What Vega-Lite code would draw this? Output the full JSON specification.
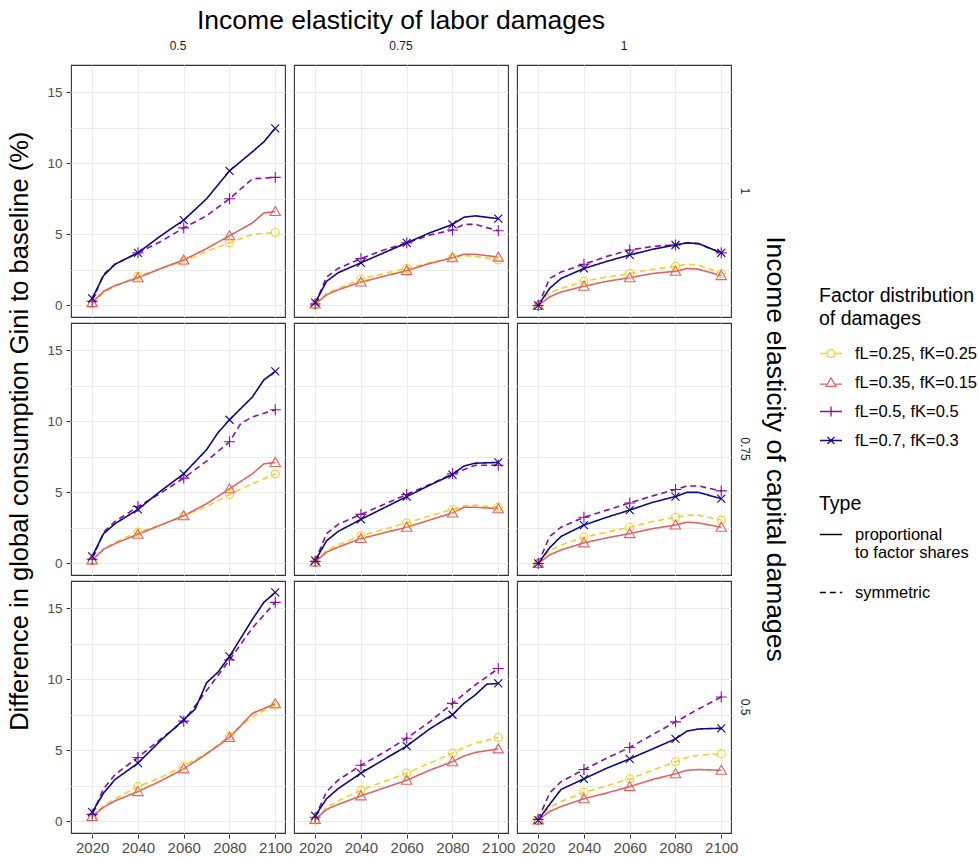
{
  "$schema": "https://vega.github.io/schema/vega-lite/v6.json",
  "padding": {"left": 8, "top": 7, "right": 0, "bottom": 3},
  "background": "white",
  "title": {"text": "Difference in global consumption Gini to baseline (%)", "orient": "left", "anchor": "middle", "fontSize": 25.5, "fontWeight": "normal", "color": "#000000", "offset": 13},
  "config": {
    "font": "Liberation Sans",
    "view": {"stroke": "#333333", "strokeWidth": 1.1},
    "axis": {"grid": true, "gridColor": "#EBEBEB", "gridWidth": 1.1, "domain": false, "tickColor": "#333333", "tickSize": 4, "labelColor": "#4D4D4D", "labelFontSize": 13.5, "labelPadding": 3, "titleFontWeight": "normal", "titleColor": "#000000"},
    "header": {"labelFontSize": 12, "labelColor": "#1A1A1A", "titleFontSize": 26.5, "titleFontWeight": "normal", "titleColor": "#000000"},
    "legend": {"titleFontWeight": "normal", "titleFontSize": 19.5, "titleLineHeight": 23, "labelFontSize": 16.5, "titleColor": "#000000", "labelColor": "#000000"}
  },
  "data": {"values": [
    {"c":"0.5","r":"1","s":"fL=0.25, fK=0.25","t":"symmetric","x":2020,"v":0.1},
    {"c":"0.5","r":"1","s":"fL=0.25, fK=0.25","t":"symmetric","x":2025,"v":0.9},
    {"c":"0.5","r":"1","s":"fL=0.25, fK=0.25","t":"symmetric","x":2030,"v":1.35},
    {"c":"0.5","r":"1","s":"fL=0.25, fK=0.25","t":"symmetric","x":2040,"v":2.05},
    {"c":"0.5","r":"1","s":"fL=0.25, fK=0.25","t":"symmetric","x":2050,"v":2.6},
    {"c":"0.5","r":"1","s":"fL=0.25, fK=0.25","t":"symmetric","x":2060,"v":3.1},
    {"c":"0.5","r":"1","s":"fL=0.25, fK=0.25","t":"symmetric","x":2070,"v":3.8},
    {"c":"0.5","r":"1","s":"fL=0.25, fK=0.25","t":"symmetric","x":2080,"v":4.4},
    {"c":"0.5","r":"1","s":"fL=0.25, fK=0.25","t":"symmetric","x":2090,"v":5.0},
    {"c":"0.5","r":"1","s":"fL=0.25, fK=0.25","t":"symmetric","x":2100,"v":5.13},
    {"c":"0.5","r":"1","s":"fL=0.35, fK=0.15","t":"proportional to factor shares","x":2020,"v":0.2},
    {"c":"0.5","r":"1","s":"fL=0.35, fK=0.15","t":"proportional to factor shares","x":2025,"v":1.0},
    {"c":"0.5","r":"1","s":"fL=0.35, fK=0.15","t":"proportional to factor shares","x":2030,"v":1.4},
    {"c":"0.5","r":"1","s":"fL=0.35, fK=0.15","t":"proportional to factor shares","x":2040,"v":1.95},
    {"c":"0.5","r":"1","s":"fL=0.35, fK=0.15","t":"proportional to factor shares","x":2050,"v":2.6},
    {"c":"0.5","r":"1","s":"fL=0.35, fK=0.15","t":"proportional to factor shares","x":2060,"v":3.2},
    {"c":"0.5","r":"1","s":"fL=0.35, fK=0.15","t":"proportional to factor shares","x":2070,"v":4.0},
    {"c":"0.5","r":"1","s":"fL=0.35, fK=0.15","t":"proportional to factor shares","x":2080,"v":4.9},
    {"c":"0.5","r":"1","s":"fL=0.35, fK=0.15","t":"proportional to factor shares","x":2090,"v":5.8},
    {"c":"0.5","r":"1","s":"fL=0.35, fK=0.15","t":"proportional to factor shares","x":2095,"v":6.5},
    {"c":"0.5","r":"1","s":"fL=0.35, fK=0.15","t":"proportional to factor shares","x":2100,"v":6.6},
    {"c":"0.5","r":"1","s":"fL=0.5, fK=0.5","t":"symmetric","x":2020,"v":0.3},
    {"c":"0.5","r":"1","s":"fL=0.5, fK=0.5","t":"symmetric","x":2025,"v":2.2},
    {"c":"0.5","r":"1","s":"fL=0.5, fK=0.5","t":"symmetric","x":2030,"v":2.9},
    {"c":"0.5","r":"1","s":"fL=0.5, fK=0.5","t":"symmetric","x":2040,"v":3.7},
    {"c":"0.5","r":"1","s":"fL=0.5, fK=0.5","t":"symmetric","x":2050,"v":4.5},
    {"c":"0.5","r":"1","s":"fL=0.5, fK=0.5","t":"symmetric","x":2060,"v":5.45},
    {"c":"0.5","r":"1","s":"fL=0.5, fK=0.5","t":"symmetric","x":2070,"v":6.3},
    {"c":"0.5","r":"1","s":"fL=0.5, fK=0.5","t":"symmetric","x":2080,"v":7.5},
    {"c":"0.5","r":"1","s":"fL=0.5, fK=0.5","t":"symmetric","x":2090,"v":8.9},
    {"c":"0.5","r":"1","s":"fL=0.5, fK=0.5","t":"symmetric","x":2100,"v":9.0},
    {"c":"0.5","r":"1","s":"fL=0.7, fK=0.3","t":"proportional to factor shares","x":2020,"v":0.5},
    {"c":"0.5","r":"1","s":"fL=0.7, fK=0.3","t":"proportional to factor shares","x":2025,"v":2.1},
    {"c":"0.5","r":"1","s":"fL=0.7, fK=0.3","t":"proportional to factor shares","x":2030,"v":2.9},
    {"c":"0.5","r":"1","s":"fL=0.7, fK=0.3","t":"proportional to factor shares","x":2040,"v":3.7},
    {"c":"0.5","r":"1","s":"fL=0.7, fK=0.3","t":"proportional to factor shares","x":2050,"v":4.9},
    {"c":"0.5","r":"1","s":"fL=0.7, fK=0.3","t":"proportional to factor shares","x":2060,"v":6.0},
    {"c":"0.5","r":"1","s":"fL=0.7, fK=0.3","t":"proportional to factor shares","x":2070,"v":7.5},
    {"c":"0.5","r":"1","s":"fL=0.7, fK=0.3","t":"proportional to factor shares","x":2080,"v":9.46},
    {"c":"0.5","r":"1","s":"fL=0.7, fK=0.3","t":"proportional to factor shares","x":2090,"v":10.8},
    {"c":"0.5","r":"1","s":"fL=0.7, fK=0.3","t":"proportional to factor shares","x":2095,"v":11.5},
    {"c":"0.5","r":"1","s":"fL=0.7, fK=0.3","t":"proportional to factor shares","x":2100,"v":12.45},

    {"c":"0.75","r":"1","s":"fL=0.25, fK=0.25","t":"symmetric","x":2020,"v":0.05},
    {"c":"0.75","r":"1","s":"fL=0.25, fK=0.25","t":"symmetric","x":2025,"v":0.85},
    {"c":"0.75","r":"1","s":"fL=0.25, fK=0.25","t":"symmetric","x":2030,"v":1.2},
    {"c":"0.75","r":"1","s":"fL=0.25, fK=0.25","t":"symmetric","x":2040,"v":1.85},
    {"c":"0.75","r":"1","s":"fL=0.25, fK=0.25","t":"symmetric","x":2050,"v":2.25},
    {"c":"0.75","r":"1","s":"fL=0.25, fK=0.25","t":"symmetric","x":2060,"v":2.6},
    {"c":"0.75","r":"1","s":"fL=0.25, fK=0.25","t":"symmetric","x":2070,"v":3.0},
    {"c":"0.75","r":"1","s":"fL=0.25, fK=0.25","t":"symmetric","x":2080,"v":3.35},
    {"c":"0.75","r":"1","s":"fL=0.25, fK=0.25","t":"symmetric","x":2085,"v":3.5},
    {"c":"0.75","r":"1","s":"fL=0.25, fK=0.25","t":"symmetric","x":2090,"v":3.45},
    {"c":"0.75","r":"1","s":"fL=0.25, fK=0.25","t":"symmetric","x":2100,"v":3.2},
    {"c":"0.75","r":"1","s":"fL=0.35, fK=0.15","t":"proportional to factor shares","x":2020,"v":0.1},
    {"c":"0.75","r":"1","s":"fL=0.35, fK=0.15","t":"proportional to factor shares","x":2025,"v":0.75},
    {"c":"0.75","r":"1","s":"fL=0.35, fK=0.15","t":"proportional to factor shares","x":2030,"v":1.1},
    {"c":"0.75","r":"1","s":"fL=0.35, fK=0.15","t":"proportional to factor shares","x":2040,"v":1.65},
    {"c":"0.75","r":"1","s":"fL=0.35, fK=0.15","t":"proportional to factor shares","x":2050,"v":2.05},
    {"c":"0.75","r":"1","s":"fL=0.35, fK=0.15","t":"proportional to factor shares","x":2060,"v":2.45},
    {"c":"0.75","r":"1","s":"fL=0.35, fK=0.15","t":"proportional to factor shares","x":2070,"v":2.95},
    {"c":"0.75","r":"1","s":"fL=0.35, fK=0.15","t":"proportional to factor shares","x":2080,"v":3.35},
    {"c":"0.75","r":"1","s":"fL=0.35, fK=0.15","t":"proportional to factor shares","x":2085,"v":3.6},
    {"c":"0.75","r":"1","s":"fL=0.35, fK=0.15","t":"proportional to factor shares","x":2090,"v":3.6},
    {"c":"0.75","r":"1","s":"fL=0.35, fK=0.15","t":"proportional to factor shares","x":2100,"v":3.4},
    {"c":"0.75","r":"1","s":"fL=0.5, fK=0.5","t":"symmetric","x":2020,"v":0.1},
    {"c":"0.75","r":"1","s":"fL=0.5, fK=0.5","t":"symmetric","x":2025,"v":2.0},
    {"c":"0.75","r":"1","s":"fL=0.5, fK=0.5","t":"symmetric","x":2030,"v":2.6},
    {"c":"0.75","r":"1","s":"fL=0.5, fK=0.5","t":"symmetric","x":2040,"v":3.3},
    {"c":"0.75","r":"1","s":"fL=0.5, fK=0.5","t":"symmetric","x":2050,"v":3.9},
    {"c":"0.75","r":"1","s":"fL=0.5, fK=0.5","t":"symmetric","x":2060,"v":4.4},
    {"c":"0.75","r":"1","s":"fL=0.5, fK=0.5","t":"symmetric","x":2070,"v":4.95},
    {"c":"0.75","r":"1","s":"fL=0.5, fK=0.5","t":"symmetric","x":2080,"v":5.3},
    {"c":"0.75","r":"1","s":"fL=0.5, fK=0.5","t":"symmetric","x":2085,"v":5.7},
    {"c":"0.75","r":"1","s":"fL=0.5, fK=0.5","t":"symmetric","x":2090,"v":5.7},
    {"c":"0.75","r":"1","s":"fL=0.5, fK=0.5","t":"symmetric","x":2100,"v":5.25},
    {"c":"0.75","r":"1","s":"fL=0.7, fK=0.3","t":"proportional to factor shares","x":2020,"v":0.2},
    {"c":"0.75","r":"1","s":"fL=0.7, fK=0.3","t":"proportional to factor shares","x":2025,"v":1.7},
    {"c":"0.75","r":"1","s":"fL=0.7, fK=0.3","t":"proportional to factor shares","x":2030,"v":2.3},
    {"c":"0.75","r":"1","s":"fL=0.7, fK=0.3","t":"proportional to factor shares","x":2040,"v":3.0},
    {"c":"0.75","r":"1","s":"fL=0.7, fK=0.3","t":"proportional to factor shares","x":2050,"v":3.7},
    {"c":"0.75","r":"1","s":"fL=0.7, fK=0.3","t":"proportional to factor shares","x":2060,"v":4.4},
    {"c":"0.75","r":"1","s":"fL=0.7, fK=0.3","t":"proportional to factor shares","x":2070,"v":5.1},
    {"c":"0.75","r":"1","s":"fL=0.7, fK=0.3","t":"proportional to factor shares","x":2080,"v":5.7},
    {"c":"0.75","r":"1","s":"fL=0.7, fK=0.3","t":"proportional to factor shares","x":2085,"v":6.2},
    {"c":"0.75","r":"1","s":"fL=0.7, fK=0.3","t":"proportional to factor shares","x":2090,"v":6.3},
    {"c":"0.75","r":"1","s":"fL=0.7, fK=0.3","t":"proportional to factor shares","x":2100,"v":6.1},

    {"c":"1","r":"1","s":"fL=0.25, fK=0.25","t":"symmetric","x":2020,"v":0.0},
    {"c":"1","r":"1","s":"fL=0.25, fK=0.25","t":"symmetric","x":2025,"v":0.9},
    {"c":"1","r":"1","s":"fL=0.25, fK=0.25","t":"symmetric","x":2030,"v":1.2},
    {"c":"1","r":"1","s":"fL=0.25, fK=0.25","t":"symmetric","x":2040,"v":1.7},
    {"c":"1","r":"1","s":"fL=0.25, fK=0.25","t":"symmetric","x":2050,"v":2.0},
    {"c":"1","r":"1","s":"fL=0.25, fK=0.25","t":"symmetric","x":2060,"v":2.25},
    {"c":"1","r":"1","s":"fL=0.25, fK=0.25","t":"symmetric","x":2070,"v":2.55},
    {"c":"1","r":"1","s":"fL=0.25, fK=0.25","t":"symmetric","x":2080,"v":2.75},
    {"c":"1","r":"1","s":"fL=0.25, fK=0.25","t":"symmetric","x":2085,"v":2.9},
    {"c":"1","r":"1","s":"fL=0.25, fK=0.25","t":"symmetric","x":2090,"v":2.85},
    {"c":"1","r":"1","s":"fL=0.25, fK=0.25","t":"symmetric","x":2100,"v":2.25},
    {"c":"1","r":"1","s":"fL=0.35, fK=0.15","t":"proportional to factor shares","x":2020,"v":0.0},
    {"c":"1","r":"1","s":"fL=0.35, fK=0.15","t":"proportional to factor shares","x":2025,"v":0.6},
    {"c":"1","r":"1","s":"fL=0.35, fK=0.15","t":"proportional to factor shares","x":2030,"v":0.95},
    {"c":"1","r":"1","s":"fL=0.35, fK=0.15","t":"proportional to factor shares","x":2040,"v":1.35},
    {"c":"1","r":"1","s":"fL=0.35, fK=0.15","t":"proportional to factor shares","x":2050,"v":1.7},
    {"c":"1","r":"1","s":"fL=0.35, fK=0.15","t":"proportional to factor shares","x":2060,"v":1.95},
    {"c":"1","r":"1","s":"fL=0.35, fK=0.15","t":"proportional to factor shares","x":2070,"v":2.25},
    {"c":"1","r":"1","s":"fL=0.35, fK=0.15","t":"proportional to factor shares","x":2080,"v":2.4},
    {"c":"1","r":"1","s":"fL=0.35, fK=0.15","t":"proportional to factor shares","x":2085,"v":2.6},
    {"c":"1","r":"1","s":"fL=0.35, fK=0.15","t":"proportional to factor shares","x":2090,"v":2.55},
    {"c":"1","r":"1","s":"fL=0.35, fK=0.15","t":"proportional to factor shares","x":2100,"v":2.1},
    {"c":"1","r":"1","s":"fL=0.5, fK=0.5","t":"symmetric","x":2020,"v":0.0},
    {"c":"1","r":"1","s":"fL=0.5, fK=0.5","t":"symmetric","x":2025,"v":1.9},
    {"c":"1","r":"1","s":"fL=0.5, fK=0.5","t":"symmetric","x":2030,"v":2.35},
    {"c":"1","r":"1","s":"fL=0.5, fK=0.5","t":"symmetric","x":2040,"v":2.9},
    {"c":"1","r":"1","s":"fL=0.5, fK=0.5","t":"symmetric","x":2050,"v":3.45},
    {"c":"1","r":"1","s":"fL=0.5, fK=0.5","t":"symmetric","x":2060,"v":3.9},
    {"c":"1","r":"1","s":"fL=0.5, fK=0.5","t":"symmetric","x":2070,"v":4.15},
    {"c":"1","r":"1","s":"fL=0.5, fK=0.5","t":"symmetric","x":2080,"v":4.25},
    {"c":"1","r":"1","s":"fL=0.5, fK=0.5","t":"symmetric","x":2085,"v":4.4},
    {"c":"1","r":"1","s":"fL=0.5, fK=0.5","t":"symmetric","x":2090,"v":4.35},
    {"c":"1","r":"1","s":"fL=0.5, fK=0.5","t":"symmetric","x":2100,"v":3.7},
    {"c":"1","r":"1","s":"fL=0.7, fK=0.3","t":"proportional to factor shares","x":2020,"v":0.0},
    {"c":"1","r":"1","s":"fL=0.7, fK=0.3","t":"proportional to factor shares","x":2025,"v":1.2},
    {"c":"1","r":"1","s":"fL=0.7, fK=0.3","t":"proportional to factor shares","x":2030,"v":1.9},
    {"c":"1","r":"1","s":"fL=0.7, fK=0.3","t":"proportional to factor shares","x":2040,"v":2.6},
    {"c":"1","r":"1","s":"fL=0.7, fK=0.3","t":"proportional to factor shares","x":2050,"v":3.1},
    {"c":"1","r":"1","s":"fL=0.7, fK=0.3","t":"proportional to factor shares","x":2060,"v":3.55},
    {"c":"1","r":"1","s":"fL=0.7, fK=0.3","t":"proportional to factor shares","x":2070,"v":3.95},
    {"c":"1","r":"1","s":"fL=0.7, fK=0.3","t":"proportional to factor shares","x":2080,"v":4.25},
    {"c":"1","r":"1","s":"fL=0.7, fK=0.3","t":"proportional to factor shares","x":2085,"v":4.4},
    {"c":"1","r":"1","s":"fL=0.7, fK=0.3","t":"proportional to factor shares","x":2090,"v":4.35},
    {"c":"1","r":"1","s":"fL=0.7, fK=0.3","t":"proportional to factor shares","x":2100,"v":3.7},

    {"c":"0.5","r":"0.75","s":"fL=0.25, fK=0.25","t":"symmetric","x":2020,"v":0.2},
    {"c":"0.5","r":"0.75","s":"fL=0.25, fK=0.25","t":"symmetric","x":2025,"v":1.0},
    {"c":"0.5","r":"0.75","s":"fL=0.25, fK=0.25","t":"symmetric","x":2030,"v":1.5},
    {"c":"0.5","r":"0.75","s":"fL=0.25, fK=0.25","t":"symmetric","x":2040,"v":2.2},
    {"c":"0.5","r":"0.75","s":"fL=0.25, fK=0.25","t":"symmetric","x":2050,"v":2.7},
    {"c":"0.5","r":"0.75","s":"fL=0.25, fK=0.25","t":"symmetric","x":2060,"v":3.35},
    {"c":"0.5","r":"0.75","s":"fL=0.25, fK=0.25","t":"symmetric","x":2070,"v":4.0},
    {"c":"0.5","r":"0.75","s":"fL=0.25, fK=0.25","t":"symmetric","x":2080,"v":4.85},
    {"c":"0.5","r":"0.75","s":"fL=0.25, fK=0.25","t":"symmetric","x":2090,"v":5.6},
    {"c":"0.5","r":"0.75","s":"fL=0.25, fK=0.25","t":"symmetric","x":2100,"v":6.3},
    {"c":"0.5","r":"0.75","s":"fL=0.35, fK=0.15","t":"proportional to factor shares","x":2020,"v":0.25},
    {"c":"0.5","r":"0.75","s":"fL=0.35, fK=0.15","t":"proportional to factor shares","x":2025,"v":1.0},
    {"c":"0.5","r":"0.75","s":"fL=0.35, fK=0.15","t":"proportional to factor shares","x":2030,"v":1.4},
    {"c":"0.5","r":"0.75","s":"fL=0.35, fK=0.15","t":"proportional to factor shares","x":2040,"v":2.05},
    {"c":"0.5","r":"0.75","s":"fL=0.35, fK=0.15","t":"proportional to factor shares","x":2050,"v":2.7},
    {"c":"0.5","r":"0.75","s":"fL=0.35, fK=0.15","t":"proportional to factor shares","x":2060,"v":3.35},
    {"c":"0.5","r":"0.75","s":"fL=0.35, fK=0.15","t":"proportional to factor shares","x":2070,"v":4.2},
    {"c":"0.5","r":"0.75","s":"fL=0.35, fK=0.15","t":"proportional to factor shares","x":2080,"v":5.25},
    {"c":"0.5","r":"0.75","s":"fL=0.35, fK=0.15","t":"proportional to factor shares","x":2090,"v":6.3},
    {"c":"0.5","r":"0.75","s":"fL=0.35, fK=0.15","t":"proportional to factor shares","x":2095,"v":7.0},
    {"c":"0.5","r":"0.75","s":"fL=0.35, fK=0.15","t":"proportional to factor shares","x":2100,"v":7.1},
    {"c":"0.5","r":"0.75","s":"fL=0.5, fK=0.5","t":"symmetric","x":2020,"v":0.3},
    {"c":"0.5","r":"0.75","s":"fL=0.5, fK=0.5","t":"symmetric","x":2025,"v":2.2},
    {"c":"0.5","r":"0.75","s":"fL=0.5, fK=0.5","t":"symmetric","x":2030,"v":2.95},
    {"c":"0.5","r":"0.75","s":"fL=0.5, fK=0.5","t":"symmetric","x":2040,"v":4.0},
    {"c":"0.5","r":"0.75","s":"fL=0.5, fK=0.5","t":"symmetric","x":2050,"v":4.95},
    {"c":"0.5","r":"0.75","s":"fL=0.5, fK=0.5","t":"symmetric","x":2060,"v":6.0},
    {"c":"0.5","r":"0.75","s":"fL=0.5, fK=0.5","t":"symmetric","x":2070,"v":7.2},
    {"c":"0.5","r":"0.75","s":"fL=0.5, fK=0.5","t":"symmetric","x":2080,"v":8.55},
    {"c":"0.5","r":"0.75","s":"fL=0.5, fK=0.5","t":"symmetric","x":2085,"v":9.85},
    {"c":"0.5","r":"0.75","s":"fL=0.5, fK=0.5","t":"symmetric","x":2090,"v":10.3},
    {"c":"0.5","r":"0.75","s":"fL=0.5, fK=0.5","t":"symmetric","x":2100,"v":10.8},
    {"c":"0.5","r":"0.75","s":"fL=0.7, fK=0.3","t":"proportional to factor shares","x":2020,"v":0.5},
    {"c":"0.5","r":"0.75","s":"fL=0.7, fK=0.3","t":"proportional to factor shares","x":2025,"v":2.1},
    {"c":"0.5","r":"0.75","s":"fL=0.7, fK=0.3","t":"proportional to factor shares","x":2030,"v":2.8},
    {"c":"0.5","r":"0.75","s":"fL=0.7, fK=0.3","t":"proportional to factor shares","x":2040,"v":3.8},
    {"c":"0.5","r":"0.75","s":"fL=0.7, fK=0.3","t":"proportional to factor shares","x":2050,"v":5.1},
    {"c":"0.5","r":"0.75","s":"fL=0.7, fK=0.3","t":"proportional to factor shares","x":2060,"v":6.3},
    {"c":"0.5","r":"0.75","s":"fL=0.7, fK=0.3","t":"proportional to factor shares","x":2070,"v":8.0},
    {"c":"0.5","r":"0.75","s":"fL=0.7, fK=0.3","t":"proportional to factor shares","x":2075,"v":9.2},
    {"c":"0.5","r":"0.75","s":"fL=0.7, fK=0.3","t":"proportional to factor shares","x":2080,"v":10.1},
    {"c":"0.5","r":"0.75","s":"fL=0.7, fK=0.3","t":"proportional to factor shares","x":2085,"v":10.9},
    {"c":"0.5","r":"0.75","s":"fL=0.7, fK=0.3","t":"proportional to factor shares","x":2090,"v":11.7},
    {"c":"0.5","r":"0.75","s":"fL=0.7, fK=0.3","t":"proportional to factor shares","x":2095,"v":12.9},
    {"c":"0.5","r":"0.75","s":"fL=0.7, fK=0.3","t":"proportional to factor shares","x":2100,"v":13.5},

    {"c":"0.75","r":"0.75","s":"fL=0.25, fK=0.25","t":"symmetric","x":2020,"v":0.05},
    {"c":"0.75","r":"0.75","s":"fL=0.25, fK=0.25","t":"symmetric","x":2025,"v":0.9},
    {"c":"0.75","r":"0.75","s":"fL=0.25, fK=0.25","t":"symmetric","x":2030,"v":1.3},
    {"c":"0.75","r":"0.75","s":"fL=0.25, fK=0.25","t":"symmetric","x":2040,"v":1.95},
    {"c":"0.75","r":"0.75","s":"fL=0.25, fK=0.25","t":"symmetric","x":2050,"v":2.4},
    {"c":"0.75","r":"0.75","s":"fL=0.25, fK=0.25","t":"symmetric","x":2060,"v":2.85},
    {"c":"0.75","r":"0.75","s":"fL=0.25, fK=0.25","t":"symmetric","x":2070,"v":3.35},
    {"c":"0.75","r":"0.75","s":"fL=0.25, fK=0.25","t":"symmetric","x":2080,"v":3.8},
    {"c":"0.75","r":"0.75","s":"fL=0.25, fK=0.25","t":"symmetric","x":2085,"v":4.05},
    {"c":"0.75","r":"0.75","s":"fL=0.25, fK=0.25","t":"symmetric","x":2090,"v":4.1},
    {"c":"0.75","r":"0.75","s":"fL=0.25, fK=0.25","t":"symmetric","x":2100,"v":3.95},
    {"c":"0.75","r":"0.75","s":"fL=0.35, fK=0.15","t":"proportional to factor shares","x":2020,"v":0.1},
    {"c":"0.75","r":"0.75","s":"fL=0.35, fK=0.15","t":"proportional to factor shares","x":2025,"v":0.8},
    {"c":"0.75","r":"0.75","s":"fL=0.35, fK=0.15","t":"proportional to factor shares","x":2030,"v":1.15},
    {"c":"0.75","r":"0.75","s":"fL=0.35, fK=0.15","t":"proportional to factor shares","x":2040,"v":1.75},
    {"c":"0.75","r":"0.75","s":"fL=0.35, fK=0.15","t":"proportional to factor shares","x":2050,"v":2.15},
    {"c":"0.75","r":"0.75","s":"fL=0.35, fK=0.15","t":"proportional to factor shares","x":2060,"v":2.55},
    {"c":"0.75","r":"0.75","s":"fL=0.35, fK=0.15","t":"proportional to factor shares","x":2070,"v":3.05},
    {"c":"0.75","r":"0.75","s":"fL=0.35, fK=0.15","t":"proportional to factor shares","x":2080,"v":3.55},
    {"c":"0.75","r":"0.75","s":"fL=0.35, fK=0.15","t":"proportional to factor shares","x":2085,"v":3.95},
    {"c":"0.75","r":"0.75","s":"fL=0.35, fK=0.15","t":"proportional to factor shares","x":2090,"v":3.95},
    {"c":"0.75","r":"0.75","s":"fL=0.35, fK=0.15","t":"proportional to factor shares","x":2100,"v":3.85},
    {"c":"0.75","r":"0.75","s":"fL=0.5, fK=0.5","t":"symmetric","x":2020,"v":0.15},
    {"c":"0.75","r":"0.75","s":"fL=0.5, fK=0.5","t":"symmetric","x":2025,"v":2.1},
    {"c":"0.75","r":"0.75","s":"fL=0.5, fK=0.5","t":"symmetric","x":2030,"v":2.75},
    {"c":"0.75","r":"0.75","s":"fL=0.5, fK=0.5","t":"symmetric","x":2040,"v":3.45},
    {"c":"0.75","r":"0.75","s":"fL=0.5, fK=0.5","t":"symmetric","x":2050,"v":4.15},
    {"c":"0.75","r":"0.75","s":"fL=0.5, fK=0.5","t":"symmetric","x":2060,"v":4.85},
    {"c":"0.75","r":"0.75","s":"fL=0.5, fK=0.5","t":"symmetric","x":2070,"v":5.55},
    {"c":"0.75","r":"0.75","s":"fL=0.5, fK=0.5","t":"symmetric","x":2080,"v":6.3},
    {"c":"0.75","r":"0.75","s":"fL=0.5, fK=0.5","t":"symmetric","x":2090,"v":6.9},
    {"c":"0.75","r":"0.75","s":"fL=0.5, fK=0.5","t":"symmetric","x":2100,"v":6.9},
    {"c":"0.75","r":"0.75","s":"fL=0.7, fK=0.3","t":"proportional to factor shares","x":2020,"v":0.2},
    {"c":"0.75","r":"0.75","s":"fL=0.7, fK=0.3","t":"proportional to factor shares","x":2025,"v":1.6},
    {"c":"0.75","r":"0.75","s":"fL=0.7, fK=0.3","t":"proportional to factor shares","x":2030,"v":2.25},
    {"c":"0.75","r":"0.75","s":"fL=0.7, fK=0.3","t":"proportional to factor shares","x":2040,"v":3.1},
    {"c":"0.75","r":"0.75","s":"fL=0.7, fK=0.3","t":"proportional to factor shares","x":2050,"v":3.9},
    {"c":"0.75","r":"0.75","s":"fL=0.7, fK=0.3","t":"proportional to factor shares","x":2060,"v":4.7},
    {"c":"0.75","r":"0.75","s":"fL=0.7, fK=0.3","t":"proportional to factor shares","x":2070,"v":5.5},
    {"c":"0.75","r":"0.75","s":"fL=0.7, fK=0.3","t":"proportional to factor shares","x":2080,"v":6.25},
    {"c":"0.75","r":"0.75","s":"fL=0.7, fK=0.3","t":"proportional to factor shares","x":2085,"v":6.85},
    {"c":"0.75","r":"0.75","s":"fL=0.7, fK=0.3","t":"proportional to factor shares","x":2090,"v":7.05},
    {"c":"0.75","r":"0.75","s":"fL=0.7, fK=0.3","t":"proportional to factor shares","x":2100,"v":7.1},

    {"c":"1","r":"0.75","s":"fL=0.25, fK=0.25","t":"symmetric","x":2020,"v":0.0},
    {"c":"1","r":"0.75","s":"fL=0.25, fK=0.25","t":"symmetric","x":2025,"v":0.9},
    {"c":"1","r":"0.75","s":"fL=0.25, fK=0.25","t":"symmetric","x":2030,"v":1.3},
    {"c":"1","r":"0.75","s":"fL=0.25, fK=0.25","t":"symmetric","x":2040,"v":1.85},
    {"c":"1","r":"0.75","s":"fL=0.25, fK=0.25","t":"symmetric","x":2050,"v":2.2},
    {"c":"1","r":"0.75","s":"fL=0.25, fK=0.25","t":"symmetric","x":2060,"v":2.55},
    {"c":"1","r":"0.75","s":"fL=0.25, fK=0.25","t":"symmetric","x":2070,"v":2.95},
    {"c":"1","r":"0.75","s":"fL=0.25, fK=0.25","t":"symmetric","x":2080,"v":3.25},
    {"c":"1","r":"0.75","s":"fL=0.25, fK=0.25","t":"symmetric","x":2085,"v":3.4},
    {"c":"1","r":"0.75","s":"fL=0.25, fK=0.25","t":"symmetric","x":2090,"v":3.4},
    {"c":"1","r":"0.75","s":"fL=0.25, fK=0.25","t":"symmetric","x":2100,"v":3.05},
    {"c":"1","r":"0.75","s":"fL=0.35, fK=0.15","t":"proportional to factor shares","x":2020,"v":0.0},
    {"c":"1","r":"0.75","s":"fL=0.35, fK=0.15","t":"proportional to factor shares","x":2025,"v":0.6},
    {"c":"1","r":"0.75","s":"fL=0.35, fK=0.15","t":"proportional to factor shares","x":2030,"v":0.95},
    {"c":"1","r":"0.75","s":"fL=0.35, fK=0.15","t":"proportional to factor shares","x":2040,"v":1.45},
    {"c":"1","r":"0.75","s":"fL=0.35, fK=0.15","t":"proportional to factor shares","x":2050,"v":1.8},
    {"c":"1","r":"0.75","s":"fL=0.35, fK=0.15","t":"proportional to factor shares","x":2060,"v":2.1},
    {"c":"1","r":"0.75","s":"fL=0.35, fK=0.15","t":"proportional to factor shares","x":2070,"v":2.45},
    {"c":"1","r":"0.75","s":"fL=0.35, fK=0.15","t":"proportional to factor shares","x":2080,"v":2.7},
    {"c":"1","r":"0.75","s":"fL=0.35, fK=0.15","t":"proportional to factor shares","x":2085,"v":2.9},
    {"c":"1","r":"0.75","s":"fL=0.35, fK=0.15","t":"proportional to factor shares","x":2090,"v":2.85},
    {"c":"1","r":"0.75","s":"fL=0.35, fK=0.15","t":"proportional to factor shares","x":2100,"v":2.55},
    {"c":"1","r":"0.75","s":"fL=0.5, fK=0.5","t":"symmetric","x":2020,"v":0.0},
    {"c":"1","r":"0.75","s":"fL=0.5, fK=0.5","t":"symmetric","x":2025,"v":1.9},
    {"c":"1","r":"0.75","s":"fL=0.5, fK=0.5","t":"symmetric","x":2030,"v":2.55},
    {"c":"1","r":"0.75","s":"fL=0.5, fK=0.5","t":"symmetric","x":2040,"v":3.25},
    {"c":"1","r":"0.75","s":"fL=0.5, fK=0.5","t":"symmetric","x":2050,"v":3.75},
    {"c":"1","r":"0.75","s":"fL=0.5, fK=0.5","t":"symmetric","x":2060,"v":4.25},
    {"c":"1","r":"0.75","s":"fL=0.5, fK=0.5","t":"symmetric","x":2070,"v":4.75},
    {"c":"1","r":"0.75","s":"fL=0.5, fK=0.5","t":"symmetric","x":2080,"v":5.2},
    {"c":"1","r":"0.75","s":"fL=0.5, fK=0.5","t":"symmetric","x":2085,"v":5.45},
    {"c":"1","r":"0.75","s":"fL=0.5, fK=0.5","t":"symmetric","x":2090,"v":5.45},
    {"c":"1","r":"0.75","s":"fL=0.5, fK=0.5","t":"symmetric","x":2100,"v":5.1},
    {"c":"1","r":"0.75","s":"fL=0.7, fK=0.3","t":"proportional to factor shares","x":2020,"v":0.0},
    {"c":"1","r":"0.75","s":"fL=0.7, fK=0.3","t":"proportional to factor shares","x":2025,"v":1.1},
    {"c":"1","r":"0.75","s":"fL=0.7, fK=0.3","t":"proportional to factor shares","x":2030,"v":1.9},
    {"c":"1","r":"0.75","s":"fL=0.7, fK=0.3","t":"proportional to factor shares","x":2040,"v":2.7},
    {"c":"1","r":"0.75","s":"fL=0.7, fK=0.3","t":"proportional to factor shares","x":2050,"v":3.25},
    {"c":"1","r":"0.75","s":"fL=0.7, fK=0.3","t":"proportional to factor shares","x":2060,"v":3.75},
    {"c":"1","r":"0.75","s":"fL=0.7, fK=0.3","t":"proportional to factor shares","x":2070,"v":4.3},
    {"c":"1","r":"0.75","s":"fL=0.7, fK=0.3","t":"proportional to factor shares","x":2080,"v":4.7},
    {"c":"1","r":"0.75","s":"fL=0.7, fK=0.3","t":"proportional to factor shares","x":2085,"v":5.0},
    {"c":"1","r":"0.75","s":"fL=0.7, fK=0.3","t":"proportional to factor shares","x":2090,"v":5.0},
    {"c":"1","r":"0.75","s":"fL=0.7, fK=0.3","t":"proportional to factor shares","x":2100,"v":4.55},

    {"c":"0.5","r":"0.5","s":"fL=0.25, fK=0.25","t":"symmetric","x":2020,"v":0.3},
    {"c":"0.5","r":"0.5","s":"fL=0.25, fK=0.25","t":"symmetric","x":2025,"v":1.1},
    {"c":"0.5","r":"0.5","s":"fL=0.25, fK=0.25","t":"symmetric","x":2030,"v":1.6},
    {"c":"0.5","r":"0.5","s":"fL=0.25, fK=0.25","t":"symmetric","x":2040,"v":2.45},
    {"c":"0.5","r":"0.5","s":"fL=0.25, fK=0.25","t":"symmetric","x":2050,"v":3.1},
    {"c":"0.5","r":"0.5","s":"fL=0.25, fK=0.25","t":"symmetric","x":2060,"v":3.9},
    {"c":"0.5","r":"0.5","s":"fL=0.25, fK=0.25","t":"symmetric","x":2070,"v":4.8},
    {"c":"0.5","r":"0.5","s":"fL=0.25, fK=0.25","t":"symmetric","x":2080,"v":6.0},
    {"c":"0.5","r":"0.5","s":"fL=0.25, fK=0.25","t":"symmetric","x":2090,"v":7.4},
    {"c":"0.5","r":"0.5","s":"fL=0.25, fK=0.25","t":"symmetric","x":2100,"v":8.15},
    {"c":"0.5","r":"0.5","s":"fL=0.35, fK=0.15","t":"proportional to factor shares","x":2020,"v":0.35},
    {"c":"0.5","r":"0.5","s":"fL=0.35, fK=0.15","t":"proportional to factor shares","x":2025,"v":1.0},
    {"c":"0.5","r":"0.5","s":"fL=0.35, fK=0.15","t":"proportional to factor shares","x":2030,"v":1.45},
    {"c":"0.5","r":"0.5","s":"fL=0.35, fK=0.15","t":"proportional to factor shares","x":2040,"v":2.1},
    {"c":"0.5","r":"0.5","s":"fL=0.35, fK=0.15","t":"proportional to factor shares","x":2050,"v":2.85},
    {"c":"0.5","r":"0.5","s":"fL=0.35, fK=0.15","t":"proportional to factor shares","x":2060,"v":3.7},
    {"c":"0.5","r":"0.5","s":"fL=0.35, fK=0.15","t":"proportional to factor shares","x":2070,"v":4.75},
    {"c":"0.5","r":"0.5","s":"fL=0.35, fK=0.15","t":"proportional to factor shares","x":2080,"v":5.9},
    {"c":"0.5","r":"0.5","s":"fL=0.35, fK=0.15","t":"proportional to factor shares","x":2090,"v":7.6},
    {"c":"0.5","r":"0.5","s":"fL=0.35, fK=0.15","t":"proportional to factor shares","x":2100,"v":8.27},
    {"c":"0.5","r":"0.5","s":"fL=0.5, fK=0.5","t":"symmetric","x":2020,"v":0.5},
    {"c":"0.5","r":"0.5","s":"fL=0.5, fK=0.5","t":"symmetric","x":2025,"v":2.3},
    {"c":"0.5","r":"0.5","s":"fL=0.5, fK=0.5","t":"symmetric","x":2030,"v":3.3},
    {"c":"0.5","r":"0.5","s":"fL=0.5, fK=0.5","t":"symmetric","x":2040,"v":4.5},
    {"c":"0.5","r":"0.5","s":"fL=0.5, fK=0.5","t":"symmetric","x":2050,"v":5.8},
    {"c":"0.5","r":"0.5","s":"fL=0.5, fK=0.5","t":"symmetric","x":2060,"v":7.05},
    {"c":"0.5","r":"0.5","s":"fL=0.5, fK=0.5","t":"symmetric","x":2070,"v":9.2},
    {"c":"0.5","r":"0.5","s":"fL=0.5, fK=0.5","t":"symmetric","x":2080,"v":11.35},
    {"c":"0.5","r":"0.5","s":"fL=0.5, fK=0.5","t":"symmetric","x":2090,"v":13.6},
    {"c":"0.5","r":"0.5","s":"fL=0.5, fK=0.5","t":"symmetric","x":2100,"v":15.4},
    {"c":"0.5","r":"0.5","s":"fL=0.7, fK=0.3","t":"proportional to factor shares","x":2020,"v":0.65},
    {"c":"0.5","r":"0.5","s":"fL=0.7, fK=0.3","t":"proportional to factor shares","x":2025,"v":2.0},
    {"c":"0.5","r":"0.5","s":"fL=0.7, fK=0.3","t":"proportional to factor shares","x":2030,"v":2.95},
    {"c":"0.5","r":"0.5","s":"fL=0.7, fK=0.3","t":"proportional to factor shares","x":2040,"v":4.1},
    {"c":"0.5","r":"0.5","s":"fL=0.7, fK=0.3","t":"proportional to factor shares","x":2050,"v":5.7},
    {"c":"0.5","r":"0.5","s":"fL=0.7, fK=0.3","t":"proportional to factor shares","x":2060,"v":7.15},
    {"c":"0.5","r":"0.5","s":"fL=0.7, fK=0.3","t":"proportional to factor shares","x":2065,"v":7.9},
    {"c":"0.5","r":"0.5","s":"fL=0.7, fK=0.3","t":"proportional to factor shares","x":2070,"v":9.75},
    {"c":"0.5","r":"0.5","s":"fL=0.7, fK=0.3","t":"proportional to factor shares","x":2075,"v":10.5},
    {"c":"0.5","r":"0.5","s":"fL=0.7, fK=0.3","t":"proportional to factor shares","x":2080,"v":11.6},
    {"c":"0.5","r":"0.5","s":"fL=0.7, fK=0.3","t":"proportional to factor shares","x":2085,"v":12.9},
    {"c":"0.5","r":"0.5","s":"fL=0.7, fK=0.3","t":"proportional to factor shares","x":2090,"v":14.2},
    {"c":"0.5","r":"0.5","s":"fL=0.7, fK=0.3","t":"proportional to factor shares","x":2095,"v":15.4},
    {"c":"0.5","r":"0.5","s":"fL=0.7, fK=0.3","t":"proportional to factor shares","x":2100,"v":16.1},

    {"c":"0.75","r":"0.5","s":"fL=0.25, fK=0.25","t":"symmetric","x":2020,"v":0.1},
    {"c":"0.75","r":"0.5","s":"fL=0.25, fK=0.25","t":"symmetric","x":2025,"v":1.0},
    {"c":"0.75","r":"0.5","s":"fL=0.25, fK=0.25","t":"symmetric","x":2030,"v":1.45},
    {"c":"0.75","r":"0.5","s":"fL=0.25, fK=0.25","t":"symmetric","x":2040,"v":2.2},
    {"c":"0.75","r":"0.5","s":"fL=0.25, fK=0.25","t":"symmetric","x":2050,"v":2.8},
    {"c":"0.75","r":"0.5","s":"fL=0.25, fK=0.25","t":"symmetric","x":2060,"v":3.4},
    {"c":"0.75","r":"0.5","s":"fL=0.25, fK=0.25","t":"symmetric","x":2070,"v":4.1},
    {"c":"0.75","r":"0.5","s":"fL=0.25, fK=0.25","t":"symmetric","x":2080,"v":4.8},
    {"c":"0.75","r":"0.5","s":"fL=0.25, fK=0.25","t":"symmetric","x":2085,"v":5.2},
    {"c":"0.75","r":"0.5","s":"fL=0.25, fK=0.25","t":"symmetric","x":2090,"v":5.5},
    {"c":"0.75","r":"0.5","s":"fL=0.25, fK=0.25","t":"symmetric","x":2100,"v":5.9},
    {"c":"0.75","r":"0.5","s":"fL=0.35, fK=0.15","t":"proportional to factor shares","x":2020,"v":0.15},
    {"c":"0.75","r":"0.5","s":"fL=0.35, fK=0.15","t":"proportional to factor shares","x":2025,"v":0.85},
    {"c":"0.75","r":"0.5","s":"fL=0.35, fK=0.15","t":"proportional to factor shares","x":2030,"v":1.2},
    {"c":"0.75","r":"0.5","s":"fL=0.35, fK=0.15","t":"proportional to factor shares","x":2040,"v":1.8},
    {"c":"0.75","r":"0.5","s":"fL=0.35, fK=0.15","t":"proportional to factor shares","x":2050,"v":2.35},
    {"c":"0.75","r":"0.5","s":"fL=0.35, fK=0.15","t":"proportional to factor shares","x":2060,"v":2.9},
    {"c":"0.75","r":"0.5","s":"fL=0.35, fK=0.15","t":"proportional to factor shares","x":2070,"v":3.6},
    {"c":"0.75","r":"0.5","s":"fL=0.35, fK=0.15","t":"proportional to factor shares","x":2080,"v":4.2},
    {"c":"0.75","r":"0.5","s":"fL=0.35, fK=0.15","t":"proportional to factor shares","x":2085,"v":4.6},
    {"c":"0.75","r":"0.5","s":"fL=0.35, fK=0.15","t":"proportional to factor shares","x":2090,"v":4.85},
    {"c":"0.75","r":"0.5","s":"fL=0.35, fK=0.15","t":"proportional to factor shares","x":2100,"v":5.1},
    {"c":"0.75","r":"0.5","s":"fL=0.5, fK=0.5","t":"symmetric","x":2020,"v":0.3},
    {"c":"0.75","r":"0.5","s":"fL=0.5, fK=0.5","t":"symmetric","x":2025,"v":2.1},
    {"c":"0.75","r":"0.5","s":"fL=0.5, fK=0.5","t":"symmetric","x":2030,"v":2.9},
    {"c":"0.75","r":"0.5","s":"fL=0.5, fK=0.5","t":"symmetric","x":2040,"v":3.95},
    {"c":"0.75","r":"0.5","s":"fL=0.5, fK=0.5","t":"symmetric","x":2050,"v":4.85},
    {"c":"0.75","r":"0.5","s":"fL=0.5, fK=0.5","t":"symmetric","x":2060,"v":5.85},
    {"c":"0.75","r":"0.5","s":"fL=0.5, fK=0.5","t":"symmetric","x":2070,"v":7.0},
    {"c":"0.75","r":"0.5","s":"fL=0.5, fK=0.5","t":"symmetric","x":2080,"v":8.3},
    {"c":"0.75","r":"0.5","s":"fL=0.5, fK=0.5","t":"symmetric","x":2090,"v":9.6},
    {"c":"0.75","r":"0.5","s":"fL=0.5, fK=0.5","t":"symmetric","x":2100,"v":10.75},
    {"c":"0.75","r":"0.5","s":"fL=0.7, fK=0.3","t":"proportional to factor shares","x":2020,"v":0.4},
    {"c":"0.75","r":"0.5","s":"fL=0.7, fK=0.3","t":"proportional to factor shares","x":2025,"v":1.6},
    {"c":"0.75","r":"0.5","s":"fL=0.7, fK=0.3","t":"proportional to factor shares","x":2030,"v":2.3},
    {"c":"0.75","r":"0.5","s":"fL=0.7, fK=0.3","t":"proportional to factor shares","x":2040,"v":3.4},
    {"c":"0.75","r":"0.5","s":"fL=0.7, fK=0.3","t":"proportional to factor shares","x":2050,"v":4.35},
    {"c":"0.75","r":"0.5","s":"fL=0.7, fK=0.3","t":"proportional to factor shares","x":2060,"v":5.3},
    {"c":"0.75","r":"0.5","s":"fL=0.7, fK=0.3","t":"proportional to factor shares","x":2070,"v":6.5},
    {"c":"0.75","r":"0.5","s":"fL=0.7, fK=0.3","t":"proportional to factor shares","x":2080,"v":7.5},
    {"c":"0.75","r":"0.5","s":"fL=0.7, fK=0.3","t":"proportional to factor shares","x":2085,"v":8.3},
    {"c":"0.75","r":"0.5","s":"fL=0.7, fK=0.3","t":"proportional to factor shares","x":2090,"v":8.9},
    {"c":"0.75","r":"0.5","s":"fL=0.7, fK=0.3","t":"proportional to factor shares","x":2095,"v":9.65},
    {"c":"0.75","r":"0.5","s":"fL=0.7, fK=0.3","t":"proportional to factor shares","x":2100,"v":9.7},

    {"c":"1","r":"0.5","s":"fL=0.25, fK=0.25","t":"symmetric","x":2020,"v":0.05},
    {"c":"1","r":"0.5","s":"fL=0.25, fK=0.25","t":"symmetric","x":2025,"v":1.0},
    {"c":"1","r":"0.5","s":"fL=0.25, fK=0.25","t":"symmetric","x":2030,"v":1.4},
    {"c":"1","r":"0.5","s":"fL=0.25, fK=0.25","t":"symmetric","x":2040,"v":2.05},
    {"c":"1","r":"0.5","s":"fL=0.25, fK=0.25","t":"symmetric","x":2050,"v":2.5},
    {"c":"1","r":"0.5","s":"fL=0.25, fK=0.25","t":"symmetric","x":2060,"v":3.0},
    {"c":"1","r":"0.5","s":"fL=0.25, fK=0.25","t":"symmetric","x":2070,"v":3.6},
    {"c":"1","r":"0.5","s":"fL=0.25, fK=0.25","t":"symmetric","x":2080,"v":4.2},
    {"c":"1","r":"0.5","s":"fL=0.25, fK=0.25","t":"symmetric","x":2085,"v":4.5},
    {"c":"1","r":"0.5","s":"fL=0.25, fK=0.25","t":"symmetric","x":2090,"v":4.65},
    {"c":"1","r":"0.5","s":"fL=0.25, fK=0.25","t":"symmetric","x":2100,"v":4.75},
    {"c":"1","r":"0.5","s":"fL=0.35, fK=0.15","t":"proportional to factor shares","x":2020,"v":0.1},
    {"c":"1","r":"0.5","s":"fL=0.35, fK=0.15","t":"proportional to factor shares","x":2025,"v":0.7},
    {"c":"1","r":"0.5","s":"fL=0.35, fK=0.15","t":"proportional to factor shares","x":2030,"v":1.05},
    {"c":"1","r":"0.5","s":"fL=0.35, fK=0.15","t":"proportional to factor shares","x":2040,"v":1.6},
    {"c":"1","r":"0.5","s":"fL=0.35, fK=0.15","t":"proportional to factor shares","x":2050,"v":2.0},
    {"c":"1","r":"0.5","s":"fL=0.35, fK=0.15","t":"proportional to factor shares","x":2060,"v":2.45},
    {"c":"1","r":"0.5","s":"fL=0.35, fK=0.15","t":"proportional to factor shares","x":2070,"v":2.95},
    {"c":"1","r":"0.5","s":"fL=0.35, fK=0.15","t":"proportional to factor shares","x":2080,"v":3.35},
    {"c":"1","r":"0.5","s":"fL=0.35, fK=0.15","t":"proportional to factor shares","x":2085,"v":3.6},
    {"c":"1","r":"0.5","s":"fL=0.35, fK=0.15","t":"proportional to factor shares","x":2090,"v":3.65},
    {"c":"1","r":"0.5","s":"fL=0.35, fK=0.15","t":"proportional to factor shares","x":2100,"v":3.6},
    {"c":"1","r":"0.5","s":"fL=0.5, fK=0.5","t":"symmetric","x":2020,"v":0.15},
    {"c":"1","r":"0.5","s":"fL=0.5, fK=0.5","t":"symmetric","x":2025,"v":2.0},
    {"c":"1","r":"0.5","s":"fL=0.5, fK=0.5","t":"symmetric","x":2030,"v":2.8},
    {"c":"1","r":"0.5","s":"fL=0.5, fK=0.5","t":"symmetric","x":2040,"v":3.65},
    {"c":"1","r":"0.5","s":"fL=0.5, fK=0.5","t":"symmetric","x":2050,"v":4.45},
    {"c":"1","r":"0.5","s":"fL=0.5, fK=0.5","t":"symmetric","x":2060,"v":5.2},
    {"c":"1","r":"0.5","s":"fL=0.5, fK=0.5","t":"symmetric","x":2070,"v":6.1},
    {"c":"1","r":"0.5","s":"fL=0.5, fK=0.5","t":"symmetric","x":2080,"v":7.0},
    {"c":"1","r":"0.5","s":"fL=0.5, fK=0.5","t":"symmetric","x":2090,"v":7.9},
    {"c":"1","r":"0.5","s":"fL=0.5, fK=0.5","t":"symmetric","x":2100,"v":8.75},
    {"c":"1","r":"0.5","s":"fL=0.7, fK=0.3","t":"proportional to factor shares","x":2020,"v":0.1},
    {"c":"1","r":"0.5","s":"fL=0.7, fK=0.3","t":"proportional to factor shares","x":2025,"v":1.2},
    {"c":"1","r":"0.5","s":"fL=0.7, fK=0.3","t":"proportional to factor shares","x":2030,"v":2.25},
    {"c":"1","r":"0.5","s":"fL=0.7, fK=0.3","t":"proportional to factor shares","x":2040,"v":3.0},
    {"c":"1","r":"0.5","s":"fL=0.7, fK=0.3","t":"proportional to factor shares","x":2050,"v":3.75},
    {"c":"1","r":"0.5","s":"fL=0.7, fK=0.3","t":"proportional to factor shares","x":2060,"v":4.4},
    {"c":"1","r":"0.5","s":"fL=0.7, fK=0.3","t":"proportional to factor shares","x":2070,"v":5.1},
    {"c":"1","r":"0.5","s":"fL=0.7, fK=0.3","t":"proportional to factor shares","x":2080,"v":5.8},
    {"c":"1","r":"0.5","s":"fL=0.7, fK=0.3","t":"proportional to factor shares","x":2085,"v":6.35},
    {"c":"1","r":"0.5","s":"fL=0.7, fK=0.3","t":"proportional to factor shares","x":2090,"v":6.5},
    {"c":"1","r":"0.5","s":"fL=0.7, fK=0.3","t":"proportional to factor shares","x":2100,"v":6.55}
  ]},
  "facet": {
    "column": {"field": "c", "type": "nominal", "sort": ["0.5", "0.75", "1"], "title": "Income elasticity of labor damages", "header": {"labelOrient": "top", "titleOrient": "top", "labelPadding": 11, "titlePadding": -4}},
    "row": {"field": "r", "type": "nominal", "sort": ["1", "0.75", "0.5"], "title": "Income elasticity of capital damages", "header": {"labelOrient": "right", "titleOrient": "right", "labelAngle": 90, "titleAngle": 90, "labelPadding": 6, "titlePadding": 0}}
  },
  "spacing": {"row": 4, "column": 7},
  "spec": {
    "width": 214,
    "height": 252,
    "encoding": {
      "x": {"field": "x", "type": "quantitative", "title": null, "scale": {"domain": [2010.75, 2104.25], "nice": false, "zero": false},
        "axis": {"values": [2020, 2040, 2060, 2080, 2100], "format": "d", "labelFontSize": 15, "labelPadding": 2}},
      "y": {"field": "v", "type": "quantitative", "title": null, "scale": {"domain": [-0.81, 16.9], "nice": false, "zero": false},
        "axis": {"values": [0, 2.5, 5, 7.5, 10, 12.5, 15], "labelPadding": 4, "labelExpr": "datum.value % 5 == 0 ? datum.label : ''", "tickOpacity": {"condition": {"test": "datum.value % 5 != 0", "value": 0}, "value": 1}}},
      "color": {"field": "s", "type": "nominal", "title": ["Factor distribution", "of damages"],
        "scale": {"domain": ["fL=0.25, fK=0.25", "fL=0.35, fK=0.15", "fL=0.5, fK=0.5", "fL=0.7, fK=0.3"], "range": ["#FCCE25", "#E16462", "#8F0DA4", "#0D0887"]},
        "legend": {"orient": "none", "legendX": 748, "legendY": 222, "symbolSize": 484, "symbolStrokeWidth": 1.3, "rowPadding": 8, "titlePadding": 12, "labelOffset": 12,
          "encode": {"symbols": {"update": {"shape": {"signal": "datum.value == 'fL=0.25, fK=0.25' ? 'M-1,0H-0.36M0.36,0H1M-0.36,0A0.36,0.36 0 1,1 0.36,0A0.36,0.36 0 1,1 -0.36,0Z' : datum.value == 'fL=0.35, fK=0.15' ? 'M-1,0.15H-0.3M0.3,0.15H1M0,-0.42L0.45,0.35L-0.45,0.35Z' : datum.value == 'fL=0.5, fK=0.5' ? 'M-1,0H1M0,-0.45V0.45' : 'M-1,0H1M-0.32,-0.32L0.32,0.32M-0.32,0.32L0.32,-0.32'"}, "strokeDash": {"value": [1, 0]}, "fill": {"value": "transparent"}}}}}}
    },
    "layer": [
      {"mark": {"type": "line", "strokeWidth": 1.6},
        "encoding": {"strokeDash": {"field": "t", "type": "nominal", "title": "Type",
          "scale": {"domain": ["proportional to factor shares", "symmetric"], "range": [[1, 0], [6, 4]]},
          "legend": {"orient": "none", "legendX": 748, "legendY": 430, "symbolType": "stroke", "symbolStrokeColor": "#000000", "symbolSize": 500, "symbolStrokeWidth": 1.5, "labelOffset": 12, "labelLineHeight": 18, "titlePadding": 8, "labelExpr": "datum.label == 'proportional to factor shares' ? ['proportional', 'to factor shares'] : datum.label", "rowPadding": 19}}}},
      {"transform": [{"filter": "datum.s == 'fL=0.25, fK=0.25' && datum.x % 20 == 0"}],
        "mark": {"type": "point", "filled": false, "size": 400, "strokeWidth": 1.1, "opacity": 1, "shape": "M-0.4,0A0.4,0.4 0 1,1 0.4,0A0.4,0.4 0 1,1 -0.4,0Z"}},
      {"transform": [{"filter": "datum.s == 'fL=0.35, fK=0.15' && datum.x % 20 == 0"}],
        "mark": {"type": "point", "filled": false, "size": 400, "strokeWidth": 1.1, "opacity": 1, "shape": "M0,-0.5L0.52,0.4L-0.52,0.4Z"}},
      {"transform": [{"filter": "datum.s == 'fL=0.5, fK=0.5' && datum.x % 20 == 0"}],
        "mark": {"type": "point", "filled": false, "size": 400, "strokeWidth": 1.1, "opacity": 1, "shape": "M-0.55,0H0.55M0,-0.55V0.55"}},
      {"transform": [{"filter": "datum.s == 'fL=0.7, fK=0.3' && datum.x % 20 == 0"}],
        "mark": {"type": "point", "filled": false, "size": 400, "strokeWidth": 1.1, "opacity": 1, "shape": "M-0.4,-0.4L0.4,0.4M-0.4,0.4L0.4,-0.4"}}
    ]
  }
}
